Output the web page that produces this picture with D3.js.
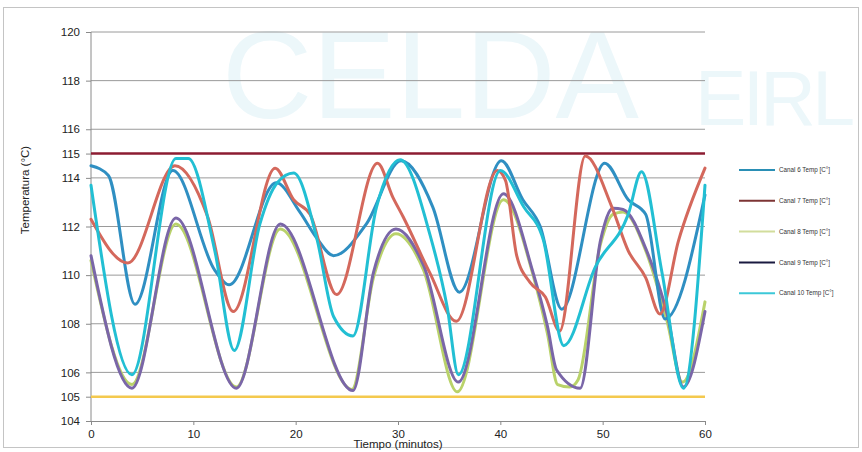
<!DOCTYPE html>
<html><head><meta charset="utf-8">
<script src="https://cdn.jsdelivr.net/npm/d3@7"></script>
<style>body{margin:0;background:#fff}svg{display:block}</style>
</head><body>
<svg id="c" width="862" height="452"></svg>
<script>
// ---- data ----
const seriesNames = ["Canal 6 Temp [C°]","Canal 7 Temp [C°]","Canal 8 Temp [C°]","Canal 9 Temp [C°]","Canal 10 Temp [C°]"];
const canal6 = [[0,114.5],[1.7,114.1],[4.3,108.8],[8.0,114.3],[12.1,110.2],[13.5,109.6],[18.1,113.8],[20.4,112.6],[22.1,111.5],[23.7,110.8],[26.9,112.1],[30.3,114.7],[33.4,112.8],[36.0,109.3],[40.1,114.7],[42.2,113.1],[43.9,112.0],[46.0,108.6],[50.2,114.6],[52.5,113.1],[54.2,112.5],[56.1,108.2],[60,113.3]];
const canal7 = [[0,112.3],[3.6,110.5],[8.2,114.5],[11.4,112.4],[13.9,108.5],[18.0,114.4],[19.8,113.1],[21.4,112.5],[24.0,109.2],[28.0,114.6],[29.5,113.2],[30.5,112.4],[33.1,110.1],[35.7,108.1],[39.7,114.3],[40.5,113.9],[41.6,110.8],[42.9,109.7],[44.4,109.1],[45.8,107.7],[48.3,114.9],[50.9,112.8],[52.5,111.0],[54.2,109.9],[55.6,108.4],[57.4,111.4],[60,114.4]];
const canal8 = [[0,110.6],[4.0,105.5],[8.3,112.1],[14.2,105.4],[18.5,111.9],[25.5,105.3],[27.6,109.9],[29.8,111.7],[32.5,110.2],[35.8,105.2],[40.3,113.1],[43.2,110.0],[44.6,107.6],[45.6,105.5],[46.8,105.4],[47.6,105.7],[49.8,111.3],[51.0,112.5],[52.0,112.6],[54.3,110.9],[56.3,108.1],[57.8,105.6],[60,108.9]];
const canal9 = [[0,110.8],[4.0,105.35],[8.3,112.35],[14.2,105.35],[18.5,112.1],[25.6,105.25],[27.6,110.1],[29.8,111.9],[32.5,110.4],[35.9,105.6],[40.3,113.35],[43.2,110.1],[44.6,107.9],[45.5,106.1],[47.8,105.35],[49.8,111.45],[51.0,112.75],[52.0,112.7],[54.3,111.0],[56.3,108.4],[57.9,105.4],[60,108.5]];
const canal10 = [[0,113.7],[4.0,105.9],[8.3,114.8],[9.5,114.8],[12.1,111.0],[14.0,106.9],[16.5,112.1],[18.2,113.8],[19.8,114.2],[22.1,111.45],[23.7,108.3],[25.6,107.5],[27.9,112.8],[30.2,114.75],[33.1,111.7],[34.8,108.7],[35.9,105.9],[40.0,114.3],[42.3,112.8],[44.2,111.45],[46.2,107.1],[49.3,110.35],[52.5,112.5],[53.8,114.25],[55.8,110.1],[57.9,105.35],[60,113.7]];
const limitHigh = 115;
const limitLow = 105;
const yTicks = [104,105,106,108,110,112,114,115,116,118,120];
const yGrid = [106,108,110,112,114,116,118,120];
const xTicks = [0,10,20,30,40,50,60];

// ---- styles ----
const colors = ["#2f8fc2","#d4685c","#b9d26a","#7a66a8","#22bfd3"];
const legendColors = ["#2a8fb5","#7d3535","#d2dd9c","#1a1a40","#3cc8d8"];
const data = [canal6, canal7, canal8, canal9, canal10];
const drawOrder = [2,3,0,1,4];

const svg = d3.select("#c");
const font = "'Liberation Sans', Arial, sans-serif";
const m = {l:91, t:32, r:705, b:421};
const x = d3.scaleLinear().domain([0,60]).range([m.l, m.r]);
const y = d3.scaleLinear().domain([104,120]).range([m.b, m.t]);

// outer frame
svg.append("rect").attr("x",3.5).attr("y",7.5).attr("width",855).attr("height",440)
  .attr("fill","#fff").attr("stroke","#c4c4c4").attr("stroke-width",1);

// watermark
const wm = svg.append("g").attr("fill","#ecf7fa").attr("font-family",font);
wm.append("text").attr("x",222).attr("y",118).attr("font-size",125).text("CELDA");
wm.append("text").attr("x",695).attr("y",125).attr("font-size",77).attr("textLength",160).text("EIRL");

// grid
svg.append("g").selectAll("line").data(yGrid).join("line")
  .attr("x1",m.l).attr("x2",m.r).attr("y1",d=>y(d)).attr("y2",d=>y(d))
  .attr("stroke","#9a9a9a").attr("stroke-width",1);

// axes
const yAxis = svg.append("g").attr("transform",`translate(${m.l},0)`)
  .call(d3.axisLeft(y).tickValues(yTicks).tickFormat(d3.format("d")).tickSize(5).tickPadding(6));
const xAxis = svg.append("g").attr("transform",`translate(0,${m.b})`)
  .call(d3.axisBottom(x).tickValues(xTicks).tickSize(4).tickPadding(5).tickSizeOuter(0));
[yAxis,xAxis].forEach(a=>{
  a.select(".domain").attr("stroke","#8a8a8a");
  a.selectAll(".tick line").attr("stroke","#8a8a8a");
  a.selectAll("text").attr("font-family",font).attr("font-size",11.5).attr("fill","#222");
});
yAxis.select(".domain").attr("d",`M-0,${m.b}V${m.t}`);

// limit lines
svg.append("line").attr("x1",x(0)).attr("x2",x(60)).attr("y1",y(limitHigh)).attr("y2",y(limitHigh))
  .attr("stroke","#8c1c32").attr("stroke-width",2.5);
svg.append("line").attr("x1",x(0)).attr("x2",x(60)).attr("y1",y(limitLow)).attr("y2",y(limitLow))
  .attr("stroke","#f4c94e").attr("stroke-width",2.5);

// series
const line = d3.line().x(d=>x(d[0])).y(d=>y(d[1])).curve(d3.curveMonotoneX);
drawOrder.forEach(i=>{
  svg.append("path").datum(data[i]).attr("d",line).attr("fill","none")
    .attr("stroke",colors[i]).attr("stroke-width",3).attr("stroke-linejoin","round").attr("stroke-linecap","round");
});

// axis titles
svg.append("text").attr("transform","translate(29,190) rotate(-90)").attr("text-anchor","middle")
  .attr("font-family",font).attr("font-size",11.5).attr("fill","#222").text("Temperatura (°C)");
svg.append("text").attr("x",398).attr("y",448).attr("text-anchor","middle")
  .attr("font-family",font).attr("font-size",11.5).attr("fill","#222").text("Tiempo (minutos)");

// legend
const lg = svg.append("g").selectAll("g").data(seriesNames).join("g")
  .attr("transform",(d,i)=>`translate(739,${170+i*30.8})`);
lg.append("line").attr("x1",0).attr("x2",36).attr("stroke",(d,i)=>legendColors[i]).attr("stroke-width",2);
lg.append("text").attr("x",40).attr("y",2.2).attr("font-family",font).attr("font-size",6.3)
  .attr("fill","#333").text(d=>d);
</script>
</body></html>
